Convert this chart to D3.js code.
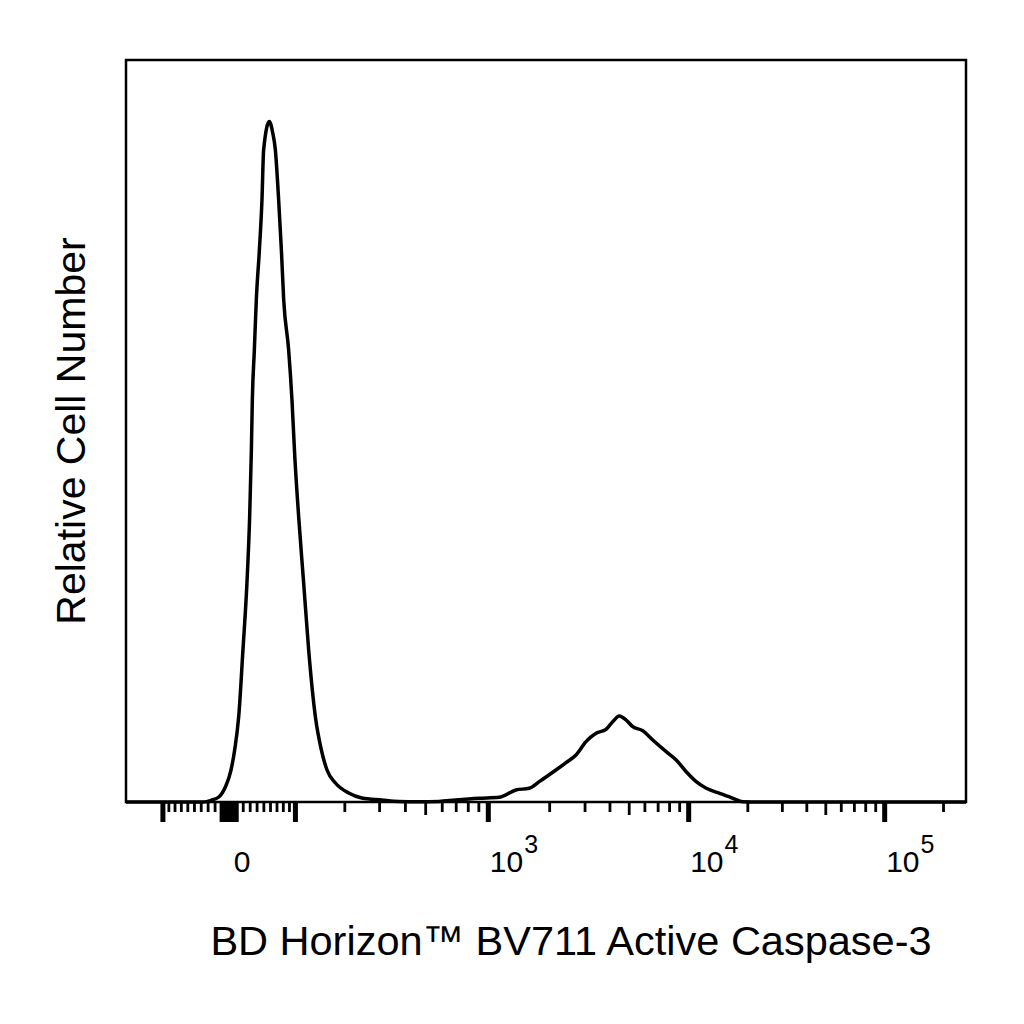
<!DOCTYPE html>
<html>
<head>
<meta charset="utf-8">
<script src="https://cdn.jsdelivr.net/npm/d3@7"></script>
<style>
  body { margin: 0; background: #fff; }
  svg { display: block; font-family: "Liberation Sans", Arial, sans-serif; }
  .frame { fill: none; stroke: #000; stroke-width: 2.5; }
  .hist { fill: none; stroke: #000; stroke-width: 3.5; stroke-linejoin: round; }
  .ticks .domain { display: none; }
  .ticks line { stroke: #000; }
</style>
</head>
<body>
<svg id="chart" width="1024" height="1024"></svg>
<script>
// fluorescence intensity (BV711) and relative cell number
const intensity = [-170, -60, -36, -24, -14, -4.7, 3.3, 8.5, 14.2, 20.3, 26, 29.9, 32.4,
  33.8, 36.7, 39.6, 44.1, 47.9, 50.4, 59, 64.1, 68.2, 73.4, 77.7, 81.4, 89.5, 95, 99.6,
  106.5, 115.3, 124.4, 137.2, 149.1, 160.7, 179.1, 211, 246, 309, 374, 467, 582, 700,
  907, 1135, 1370, 1593, 1786, 2160, 2425, 2719, 3051, 3425, 3845, 4151, 4488, 4850,
  5238, 5887, 6615, 7735, 8692, 9773, 10990, 12357, 14447, 16890, 18994, 23126, 262144];
const cells = [0, 0, 0, 0.27, 0.67, 2.02, 4.31, 7.0, 11.46, 20.5, 29.5, 38.4, 47.4,
  54.2, 60.9, 67.7, 74.4, 81.1, 87.9, 91.7, 90.2, 87.9, 81.1, 74.4, 67.7, 60.9, 54.2, 46.8,
  38.4, 29.5, 20.5, 11.46, 7.0, 4.31, 2.56, 1.21, 0.54, 0.27, 0.07, 0.03, 0.07, 0.27,
  0.5, 0.63, 1.62, 1.85, 2.74, 4.31, 5.3, 6.33, 8.13, 9.26, 9.8, 10.82, 11.59, 11.05,
  10.15, 9.61, 8.36, 6.78, 5.66, 4.08, 2.74, 1.85, 1.17, 0.5, 0.04, 0, 0];

const majorTicks = [-100, -10, 0, 10, 100, 1000, 10000, 100000];
const midTicks = [500, 5000, 50000];
const minorTicks = [-90, -80, -70, -60, -50, -40, -30, -20,
  20, 30, 40, 50, 60, 70, 80, 90,
  200, 300, 400, 600, 700, 800, 900,
  2000, 3000, 4000, 6000, 7000, 8000, 9000,
  20000, 30000, 40000, 60000, 70000, 80000, 90000, 200000];
const zeroTicks = [-9, -7, -5, -3, -1, 1, 3, 5, 7, 9];
const tickLabels = [
  { value: 0, base: '0', exp: '' },
  { value: 1000, base: '10', exp: '3' },
  { value: 10000, base: '10', exp: '4' },
  { value: 100000, base: '10', exp: '5' }
];

// logicle (biexponential) display transform
const T = 262144, M = 4.074, W = 0.3;
const p = (function () {
  let lo = 1.0001, hi = 20;
  for (let i = 0; i < 60; i++) {
    const mid = (lo + hi) / 2;
    if (2 * mid * Math.log10(mid) / (mid + 1) < W) lo = mid; else hi = mid;
  }
  return (lo + hi) / 2;
})();
const K = T * Math.pow(10, -(M - W));

function biexInverse(u) {
  const a = Math.abs(u);
  const v = K * (Math.pow(10, a) - p * p * Math.pow(10, -a / p) + p * p - 1);
  return u < 0 ? -v : v;
}

function biex(v) {
  let lo = -3, hi = M + 1;
  for (let i = 0; i < 60; i++) {
    const mid = (lo + hi) / 2;
    if (biexInverse(mid) < v) lo = mid; else hi = mid;
  }
  return (lo + hi) / 2;
}

const plotLeft = 126, plotRight = 966, plotTop = 60, plotBottom = 802;

const svg = d3.select('#chart');

const x = d3.scaleLinear()
  .domain([biex(-170), biex(T)])
  .range([plotLeft, plotRight]);

const y = d3.scaleLinear()
  .domain([0, 100])
  .range([plotBottom, plotTop]);

// ticks: three lengths
function drawTicks(values, size, width) {
  const axis = d3.axisBottom(x)
    .tickValues(values.map(biex))
    .tickSize(size)
    .tickFormat('');
  const g = svg.append('g')
    .attr('class', 'ticks')
    .attr('transform', 'translate(0,' + plotBottom + ')')
    .call(axis);
  g.selectAll('line').attr('stroke-width', width);
}

drawTicks(minorTicks, 10, 2.8);
drawTicks(midTicks, 13, 2.8);
drawTicks(majorTicks, 20, 5);
drawTicks(zeroTicks, 20, 2.8);

// histogram
const line = d3.line()
  .x(d => x(biex(d)))
  .y((d, i) => y(cells[i]))
  .curve(d3.curveMonotoneX);

svg.append('path')
  .datum(intensity)
  .attr('class', 'hist')
  .attr('d', line);

// frame
svg.append('rect')
  .attr('class', 'frame')
  .attr('x', plotLeft)
  .attr('y', plotTop)
  .attr('width', plotRight - plotLeft)
  .attr('height', plotBottom - plotTop);

// tick labels
const labels = svg.append('g');
tickLabels.forEach(function (t) {
  const tx = x(biex(t.value)) + (t.exp ? 2 : 5);
  const text = labels.append('text')
    .attr('x', tx)
    .attr('y', 872)
    .attr('font-size', '30px')
    .attr('text-anchor', 'start')
    .text(t.base);
  if (t.exp) {
    text.append('tspan')
      .attr('dy', -19)
      .attr('dx', 1)
      .attr('font-size', '25px')
      .text(t.exp);
  }
});

// axis titles
svg.append('text')
  .attr('x', 571)
  .attr('y', 955)
  .attr('text-anchor', 'middle')
  .attr('font-size', '41.5px')
  .text('BD Horizon™ BV711 Active Caspase-3');

svg.append('text')
  .attr('transform', 'translate(85,431) rotate(-90)')
  .attr('text-anchor', 'middle')
  .attr('font-size', '41px')
  .text('Relative Cell Number');
</script>
</body>
</html>
